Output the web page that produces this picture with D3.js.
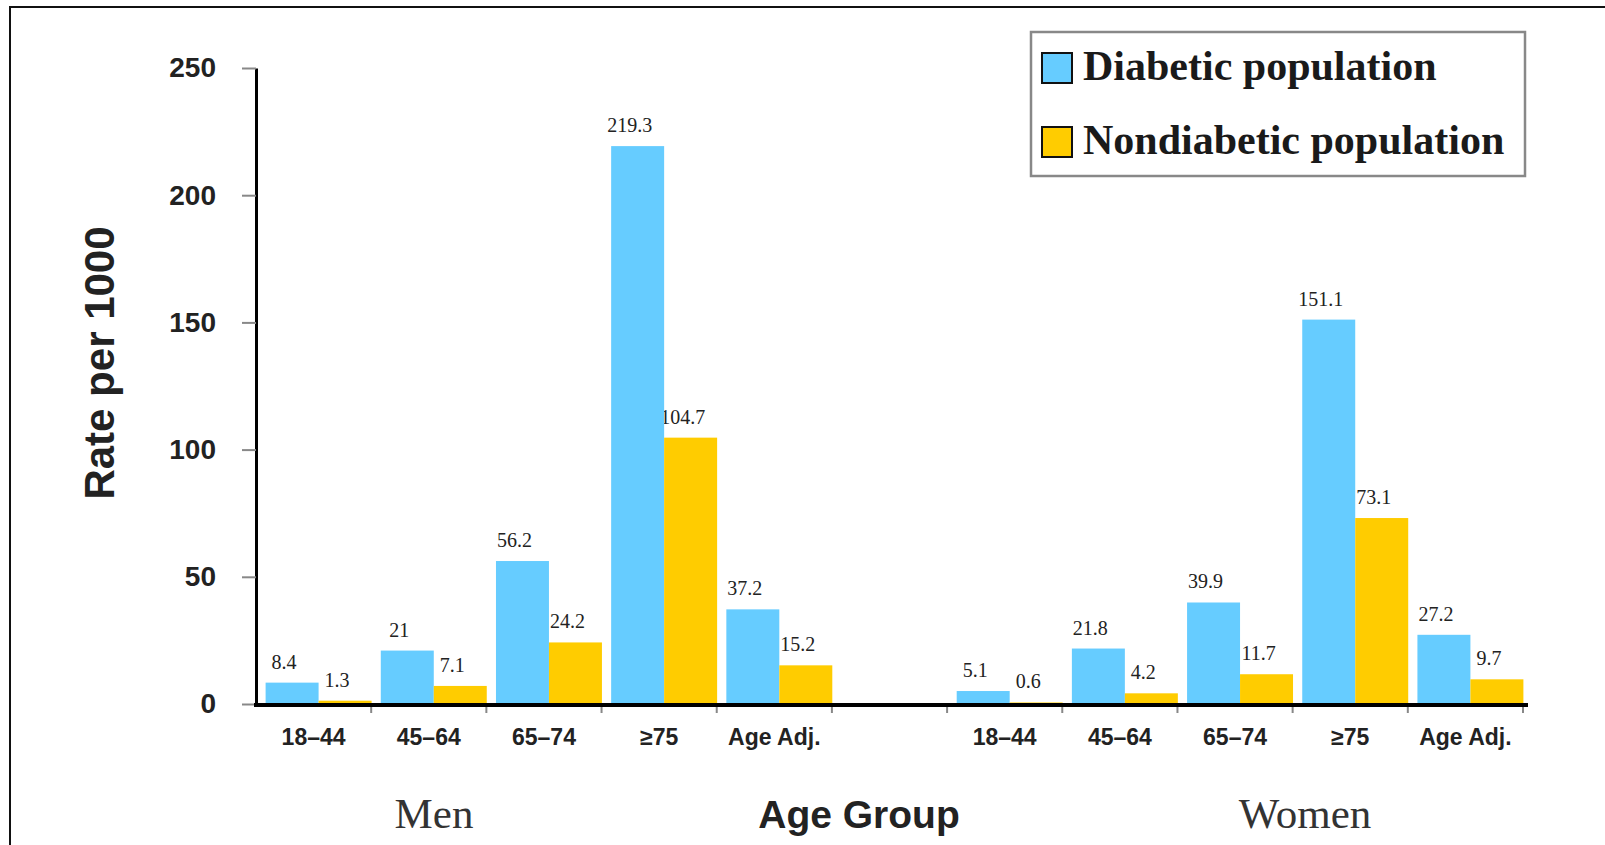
<!DOCTYPE html>
<html>
<head>
<meta charset="utf-8">
<script src="https://cdn.jsdelivr.net/npm/d3@7"></script>
<style>
  body { margin: 0; background: #fff; }
  svg { display: block; }
</style>
</head>
<body>
<svg id="chart" width="1605" height="845"></svg>
<script>
// Rate per 1000, by sex and age group
const ageGroups = ["18–44", "45–64", "65–74", "≥75", "Age Adj."];
const menDiabetic = [8.4, 21, 56.2, 219.3, 37.2];
const menNondiabetic = [1.3, 7.1, 24.2, 104.7, 15.2];
const womenDiabetic = [5.1, 21.8, 39.9, 151.1, 27.2];
const womenNondiabetic = [0.6, 4.2, 11.7, 73.1, 9.7];
const seriesNames = ["Diabetic population", "Nondiabetic population"];
const yTicks = [0, 50, 100, 150, 200, 250];

const colors = { "Diabetic population": "#66ccff", "Nondiabetic population": "#ffcc00" };

// one slot per category, with an empty slot between men and women
const slots = [
  ...ageGroups.map((a, i) => ({ key: "M" + i, label: a, values: [menDiabetic[i], menNondiabetic[i]] })),
  { key: "gap", label: "", values: [] },
  ...ageGroups.map((a, i) => ({ key: "W" + i, label: a, values: [womenDiabetic[i], womenNondiabetic[i]] }))
];

const svg = d3.select("#chart");

// frame
svg.append("rect")
  .attr("x", 10).attr("y", 7)
  .attr("width", 1620).attr("height", 900)
  .attr("fill", "#fff").attr("stroke", "#111").attr("stroke-width", 2);

const x0 = 256, x1 = 1523, yBase = 704, yTop = 68;
const barShift = 5;   // bars sit a little right of centre in each slot

const xScale = d3.scaleBand()
  .domain(slots.map(d => d.key))
  .range([x0, x1])
  .paddingInner(0.08)
  .paddingOuter(0.04);

const xInner = d3.scaleBand()
  .domain(seriesNames)
  .range([0, xScale.bandwidth()]);

const yScale = d3.scaleLinear()
  .domain([0, 250])
  .range([yBase, yTop]);

// y axis
const yAxis = svg.append("g")
  .attr("transform", `translate(${x0},0)`)
  .call(d3.axisLeft(yScale).tickValues(yTicks).tickSize(14).tickPadding(26).tickSizeOuter(0));
yAxis.select(".domain").attr("stroke", "#000").attr("stroke-width", 3);
yAxis.selectAll(".tick line").attr("stroke", "#888").attr("stroke-width", 2);
yAxis.selectAll(".tick text")
  .attr("font-family", "'Liberation Sans', Arial, sans-serif")
  .attr("font-size", 28).attr("font-weight", "bold").attr("fill", "#222");

// value labels go under the bars, like the original
const barData = slots.flatMap(s => s.values.map((v, j) => ({ slot: s.key, series: seriesNames[j], value: v })));
const barX = d => xScale(d.slot) + barShift + xInner(d.series);

svg.append("g")
  .selectAll("text")
  .data(barData)
  .join("text")
  .attr("x", d => barX(d) + xInner.bandwidth() / 2 - 8)
  .attr("y", d => yScale(d.value) - 14)
  .attr("text-anchor", "middle")
  .attr("font-family", "'Liberation Serif', 'Times New Roman', serif")
  .attr("font-size", 20)
  .attr("fill", "#222")
  .text(d => String(d.value));

svg.append("g")
  .selectAll("rect")
  .data(barData)
  .join("rect")
  .attr("x", barX)
  .attr("y", d => yScale(d.value))
  .attr("width", xInner.bandwidth())
  .attr("height", d => yBase - yScale(d.value))
  .attr("fill", d => colors[d.series]);

// x axis line with small ticks at slot boundaries
const step = xScale.step();
svg.append("g")
  .selectAll("line")
  .data(d3.range(1, slots.length + 1))
  .join("line")
  .attr("x1", i => x0 + i * step).attr("x2", i => x0 + i * step)
  .attr("y1", yBase).attr("y2", yBase + 9)
  .attr("stroke", "#888").attr("stroke-width", 2);

svg.append("line")
  .attr("x1", x0 - 2).attr("x2", x1 + 5)
  .attr("y1", yBase + 1).attr("y2", yBase + 1)
  .attr("stroke", "#000").attr("stroke-width", 4);

svg.append("g")
  .selectAll("text")
  .data(slots.filter(s => s.label))
  .join("text")
  .attr("x", d => xScale(d.key) + xScale.bandwidth() / 2)
  .attr("y", 745)
  .attr("text-anchor", "middle")
  .attr("font-family", "'Liberation Sans', Arial, sans-serif")
  .attr("font-size", 23)
  .attr("font-weight", "bold")
  .attr("fill", "#222")
  .text(d => d.label);

// axis titles
svg.append("text")
  .attr("transform", "translate(114,363) rotate(-90)")
  .attr("text-anchor", "middle")
  .attr("font-family", "'Liberation Sans', Arial, sans-serif")
  .attr("font-size", 42).attr("font-weight", "bold").attr("fill", "#222")
  .text("Rate per 1000");

svg.append("text")
  .attr("x", 859).attr("y", 828)
  .attr("text-anchor", "middle")
  .attr("font-family", "'Liberation Sans', Arial, sans-serif")
  .attr("font-size", 39).attr("font-weight", "bold").attr("fill", "#222")
  .text("Age Group");

svg.append("text")
  .attr("x", 434).attr("y", 828)
  .attr("text-anchor", "middle")
  .attr("font-family", "'Liberation Serif', 'Times New Roman', serif")
  .attr("font-size", 43).attr("fill", "#333")
  .text("Men");

svg.append("text")
  .attr("x", 1305).attr("y", 828)
  .attr("text-anchor", "middle")
  .attr("font-family", "'Liberation Serif', 'Times New Roman', serif")
  .attr("font-size", 43).attr("fill", "#333")
  .text("Women");

// legend
const legend = svg.append("g").attr("transform", "translate(1031,32)");
legend.append("rect")
  .attr("width", 494).attr("height", 144)
  .attr("fill", "#fff").attr("stroke", "#888").attr("stroke-width", 2.5);

const items = legend.selectAll("g")
  .data(seriesNames)
  .join("g")
  .attr("transform", (d, i) => `translate(11,${21 + i * 74})`);
items.append("rect")
  .attr("width", 30).attr("height", 30)
  .attr("fill", d => colors[d])
  .attr("stroke", "#111").attr("stroke-width", 2);
items.append("text")
  .attr("x", 41).attr("y", 27)
  .attr("font-family", "'Liberation Serif', 'Times New Roman', serif")
  .attr("font-size", 42).attr("font-weight", "bold").attr("fill", "#1a1a1a")
  .text(d => d);
</script>
</body>
</html>
